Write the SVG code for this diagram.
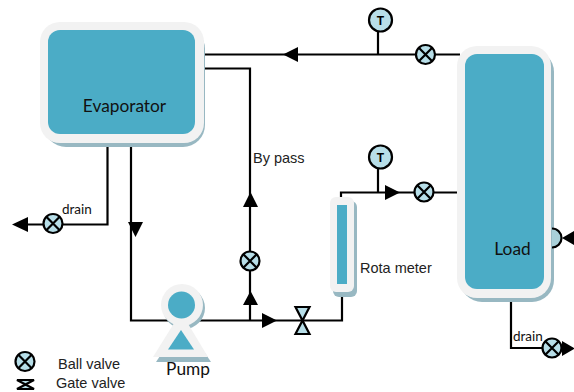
<svg xmlns="http://www.w3.org/2000/svg" width="574" height="392" viewBox="0 0 574 392">
<style>
.ln{fill:none;stroke:#000;stroke-width:2.200}
.ar{fill:#000}
.sh{fill:#98B8C2}
.ou{fill:#F2F2F2}
.in{fill:#4BACC6}
.v{fill:#B7DEE8;stroke:#000;stroke-width:2.200}
.t{font-family:"Liberation Sans",Arial,sans-serif;font-size:14.500px;fill:#222}
.c{font-family:Lato,"Open Sans",sans-serif;fill:#111}
</style>
<defs>
<g id="ball"><circle r="9.500" class="v"/><path d="M-6.700-6.700L6.700 6.700M-6.700 6.700L6.700-6.700" class="ln"/></g>
</defs>
<g id="connectors">
<path class="ln" d="M203 54.500H460M203 68.500H250V320M131 143V320.500H342V293M107.500 143V224.500H22M378 31V54M341 197V192.500H457M378 168V192M511 297V348H552"/>
<path class="ar" d="M298 47V62L283 54.500ZM243 207L250.500 192L258 207ZM243 305L250.500 291L258 305ZM262 313V328L277 320.500ZM128 222H143L135.500 237ZM28 217V232L12 224.500ZM385 185V200L400 192.500ZM574 231V245L562 238ZM562 341V356L575 348.500Z"/>
</g>
<g id="evaporator">
<rect x="44" y="27" width="161" height="120" rx="22" class="sh"/>
<rect x="40" y="22" width="164" height="121" rx="20" class="ou"/>
<rect x="48" y="30" width="147" height="104" rx="12" class="in"/>
<text x="124.500" y="112" text-anchor="middle" font-size="17.300" class="c">Evaporator</text>
</g>
<g id="load">
<rect x="460" y="50" width="94" height="252" rx="22" class="sh"/>
<rect x="457" y="46" width="94" height="252" rx="20" class="ou"/>
<rect x="465" y="54" width="79" height="235" rx="12" class="in"/>
<text x="512.500" y="255" text-anchor="middle" font-size="17.300" class="c">Load</text>
</g>
<g id="load-port"><path d="M552 228.500A9.500 9.500 0 0 1 552 247.500Z" fill="#A9D0D9"/><path d="M552 228.500A9.500 9.500 0 0 1 552 247.500" class="ln"/></g>
<g id="rota-meter">
<rect x="333" y="201" width="24" height="96" rx="6" class="sh"/>
<rect x="330" y="197" width="24" height="95" rx="6" class="ou"/>
<rect x="337" y="205" width="10" height="79" class="in"/>
<text x="360" y="273" class="t">Rota meter</text>
</g>
<g id="pump">
<circle cx="184" cy="308" r="21" class="sh"/>
<path d="M156 362L164 350H203L211 362Z" class="sh"/>
<circle cx="182" cy="305" r="21" class="ou"/>
<path d="M181 312L153 357H208Z" class="ou"/>
<circle cx="181.500" cy="305" r="13.500" class="in"/>
<path d="M181 330L168 349.500H194Z" class="in"/>
<text x="188" y="375" text-anchor="middle" font-size="17.300" class="c">Pump</text>
</g>
<g id="t-top"><circle cx="380.500" cy="20" r="11.500" class="v"/><text x="380.500" y="24.500" text-anchor="middle" font-family="Liberation Sans,Arial,sans-serif" font-size="12" font-weight="700">T</text></g>
<g id="t-mid"><circle cx="380.500" cy="157" r="11.500" class="v"/><text x="380.500" y="161.500" text-anchor="middle" font-family="Liberation Sans,Arial,sans-serif" font-size="12" font-weight="700">T</text></g>
<g id="valve-top"><use href="#ball" x="425.500" y="54.500"/></g>
<g id="valve-mid"><use href="#ball" x="424" y="192"/></g>
<g id="valve-bypass"><use href="#ball" x="250" y="261"/></g>
<g id="valve-drain-left"><use href="#ball" x="53" y="223.500"/></g>
<g id="valve-drain-right"><use href="#ball" x="552" y="348"/></g>
<g id="gate-valve"><path d="M295.500 307H309.500L295.500 334H309.500Z" class="v"/></g>
<g id="legend">
<use href="#ball" x="25" y="361.500"/>
<path d="M17 380H34L17 389H34Z" class="v"/>
<text x="58" y="369" class="t">Ball valve</text>
<text x="56" y="388" class="t">Gate valve</text>
</g>
<text x="62" y="214" font-size="13.500" class="c">drain</text>
<text x="513" y="341" font-size="13.500" class="c">drain</text>
<text x="253" y="163" class="t">By pass</text>
</svg>
